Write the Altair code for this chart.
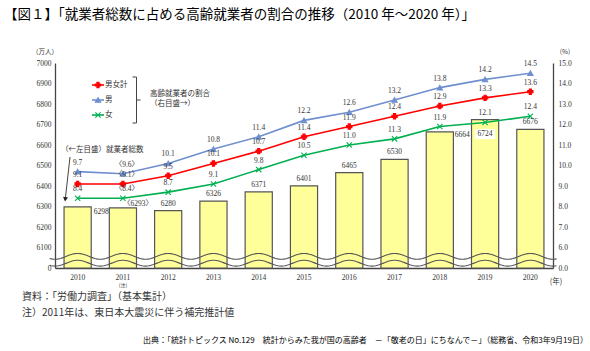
import altair as alt
import pandas as pd

# ---------------- data ----------------
years = ['2010', '2011', '2012', '2013', '2014', '2015', '2016', '2017', '2018', '2019', '2020']
workers = [6298, 6293, 6280, 6326, 6371, 6401, 6465, 6530, 6664, 6724, 6676]
series_names = ['男女計', '男', '女']
share_total = [9.1, 9.1, 9.5, 10.1, 10.7, 11.4, 11.9, 12.4, 12.9, 13.3, 13.6]
share_men = [9.7, 9.6, 10.1, 10.8, 11.4, 12.2, 12.6, 13.2, 13.8, 14.2, 14.5]
share_women = [8.4, 8.4, 8.7, 9.1, 9.8, 10.5, 11.0, 11.3, 11.9, 12.1, 12.4]
left_ticks = [6000, 6100, 6200, 6300, 6400, 6500, 6600, 6700, 6800, 6900, 7000]
right_ticks = [5, 6, 7, 8, 9, 10, 11, 12, 13, 14, 15]

series_colors = ['#FF0000', '#6F8FCF', '#00B050']
X_PATH = 'M-1,-1L1,1M-1,1L1,-1'
BOX_PATH = 'M-1,-0.5H1V0.5H-1Z'

SERIF = "'Liberation Serif', 'Noto Sans CJK JP'"
CJK = "'Noto Sans CJK JP'"
TXT = '#333333'

W, H = 498, 205
OX, OY = 55, 63

bars_df = pd.DataFrame({'year': years, 'workers': workers})
lines_df = pd.DataFrame({
    'year': years * 3,
    'series': [s for s in series_names for _ in years],
    'value': share_total + share_men + share_women,
})
one = pd.DataFrame({'a': [0]})

band = alt.Scale(paddingInner=0.4, paddingOuter=0.2)

# ---------------- bars (left axis) ----------------
x_axis = alt.Axis(title=None, labelAngle=0, ticks=False, domainColor='#444444',
                  domainWidth=1.3, labelFont=SERIF, labelFontSize=7.5,
                  labelColor=TXT, labelPadding=5, labelOverlap=False)
yl_axis = alt.Axis(title=None, values=left_ticks, tickCount=11, grid=False, ticks=False,
                   domainColor='#444444', domainWidth=1.3, labelOverlap=False,
                   labelExpr="datum.value == 6000 ? '0' : format(datum.value, 'd')",
                   labelFont=SERIF, labelFontSize=7.5, labelColor=TXT, labelPadding=4)
xb = alt.X('year:N', sort=years, scale=band, axis=x_axis)
yb = alt.Y('workers:Q', scale=alt.Scale(domain=[6000, 7000], nice=False, zero=False), axis=yl_axis)

bbase = alt.Chart(bars_df).transform_calculate(
    lbl="datum.year == '2011' ? '〈' + datum.workers + '〉' : '' + datum.workers")

bars = bbase.mark_bar(fill='#FFFF99', stroke='#555555', strokeWidth=1.2).encode(
    x=xb, y=yb, y2=alt.datum(6000))

def blabel(filt, **kw):
    args = dict(fontSize=7.5, font=SERIF, color=TXT, baseline='middle')
    args.update(kw)
    return bbase.transform_filter(filt).mark_text(**args).encode(x=xb, y=yb, text='lbl:N')

box = bbase.transform_filter("datum.year == '2019'").mark_point(
    shape=BOX_PATH, size=400, filled=True, fill='white', strokeWidth=0, opacity=1, yOffset=14.5
).encode(x=xb, y=yb)

bar_labels = [
    blabel("indexof(['2010','2011','2018','2019'], datum.year) < 0", dy=-7),
    blabel("datum.year == '2010'", align='left', dx=16, dy=5),
    blabel("datum.year == '2011'", dx=15, dy=-4),
    blabel("datum.year == '2018'", align='left', dx=15, dy=3),
    blabel("datum.year == '2019'", dy=14.5),
]

bar_layer = alt.layer(bars, box, *bar_labels)

# ---------------- break waves ----------------
wave = alt.Chart(alt.sequence(-0.12, 11.12, 0.04, as_='t')).transform_calculate(
    w1='5.57 + 0.142 * cos(2 * PI * (datum.t - 0.5))',
    w2='5.235 + 0.142 * cos(2 * PI * (datum.t - 0.5))',
).transform_fold(['w1', 'w2'], as_=['w', 'yv']).mark_line(
    color='#555555', strokeWidth=1.1).encode(
    x=alt.X('t:Q', scale=alt.Scale(domain=[0, 11], nice=False, zero=False), axis=None),
    y=alt.Y('yv:Q', scale=alt.Scale(domain=[5, 15], nice=False, zero=False), axis=None),
    detail='w:N', order='t:Q')

# ---------------- lines (right axis) ----------------
cscale = alt.Scale(domain=series_names, range=series_colors)
xl = alt.X('year:N', sort=years, scale=band, axis=None)
yr_axis = alt.Axis(orient='right', title=None, values=right_ticks, tickCount=11, grid=False, ticks=False,
                   domainColor='#444444', domainWidth=1.3, labelOverlap=False,
                   labelExpr="datum.value == 5 ? '0.0' : format(datum.value, '.1f')",
                   labelFont=SERIF, labelFontSize=7.5, labelColor=TXT, labelPadding=5)
yl = alt.Y('value:Q', scale=alt.Scale(domain=[5, 15], nice=False, zero=False), axis=yr_axis)

lbase = alt.Chart(lines_df).transform_calculate(
    lbl="datum.year == '2011' ? '〈' + format(datum.value, '.1f') + '〉' : format(datum.value, '.1f')")

lines = lbase.mark_line(strokeWidth=1.6).encode(
    x=xl, y=yl, color=alt.Color('series:N', scale=cscale, legend=None), detail='series:N')

points = lbase.mark_point(size=28, strokeWidth=1.1, opacity=1).encode(
    x=xl, y=yl,
    shape=alt.Shape('series:N', scale=alt.Scale(domain=series_names,
                                                range=['cross', 'triangle-up', X_PATH]), legend=None),
    fill=alt.Fill('series:N', scale=cscale, legend=None),
    stroke=alt.Stroke('series:N', scale=cscale, legend=None))

line_labels = [
    lbase.transform_filter("datum.year != '2011'").mark_text(
        dy=-9, fontSize=7.5, font=SERIF, color=TXT).encode(x=xl, y=yl, text='lbl:N'),
    lbase.transform_filter("datum.year == '2011'").mark_text(
        dy=-9, dx=4, fontSize=7.5, font=SERIF, color=TXT).encode(x=xl, y=yl, text='lbl:N'),
]

line_layer = alt.layer(lines, points, *line_labels)

# ---------------- annotations ----------------
def txt(s, x, y, size=8, align='left', font=CJK, color=TXT, weight='normal'):
    return alt.Chart(one).mark_text(text=s, align=align, baseline='middle', fontSize=size,
                                    font=font, color=color, fontWeight=weight).encode(
        x=alt.value(x - OX), y=alt.value(y - OY))

def seg(x1, y1, x2, y2, color='#444444', w=1):
    return alt.Chart(one).mark_rule(color=color, strokeWidth=w).encode(
        x=alt.value(x1 - OX), y=alt.value(y1 - OY), x2=alt.value(x2 - OX), y2=alt.value(y2 - OY))

def mark(x, y, shape, color, size=28, angle=0):
    return alt.Chart(one).mark_point(shape=shape, size=size, filled=True, fill=color, stroke=color,
                                     strokeWidth=1.1, opacity=1, angle=angle).encode(
        x=alt.value(x - OX), y=alt.value(y - OY))

notes = [
    txt('【図１】「就業者総数に占める高齢就業者の割合の推移（2010 年～2020 年）」', 4, 15,
        size=13.5, color='#000000'),
    txt('（万人）', 45, 52, size=6.5, align='center'),
    txt('(%)', 565, 52, size=6.5, align='center'),
    txt('(年)', 556, 282, size=7.5, align='center'),
    txt('(注)', 123, 285, size=5, align='center'),
    txt('資料：「労働力調査」（基本集計）', 22, 297, size=10),
    txt('注）2011年は、東日本大震災に伴う補完推計値', 22, 313, size=10),
    txt('出典：「統計トピックス No.129　統計からみた我が国の高齢者　－「敬老の日」にちなんで－」（総務省、令和3年9月19日）',
        588, 341, size=8, align='right', color='#000000'),
    # legend
    seg(92, 85, 104, 85, series_colors[0], 1.6),
    seg(92, 100, 104, 100, series_colors[1], 1.6),
    seg(92, 115, 104, 115, series_colors[2], 1.6),
    mark(98, 85, 'cross', series_colors[0]),
    mark(98, 100, 'triangle-up', series_colors[1]),
    mark(98, 115, X_PATH, series_colors[2]),
    txt(series_names[0], 105, 85, size=7.5),
    txt(series_names[1], 105, 100, size=7.5),
    txt(series_names[2], 105, 115, size=7.5),
    seg(136.5, 77, 136.5, 123),
    seg(132.5, 77, 136.5, 77),
    seg(132.5, 123, 136.5, 123),
    seg(136.5, 100, 140.5, 100),
    txt('高齢就業者の割合', 150, 94, size=7.5),
    txt('（右目盛→）', 150, 104, size=7.5),
    # left-axis pointer
    txt('（←左目盛）就業者総数', 61, 150, size=7.5),
    seg(70, 157, 65.5, 197),
    mark(65.3, 199, 'triangle-down', '#222222', size=10, angle=7),
]

chart = alt.layer(bar_layer, wave, line_layer, *notes).resolve_scale(
    x='independent', y='independent'
).properties(
    width=W, height=H,
    padding={'left': OX, 'top': OY, 'right': 590 - OX - W, 'bottom': 351 - OY - H},
    autosize='none',
    background='white',
).configure_view(stroke=None).configure_axis(labelOverlap=False)

chart.save('out.html', embed_options={'renderer': 'svg', 'actions': False})
